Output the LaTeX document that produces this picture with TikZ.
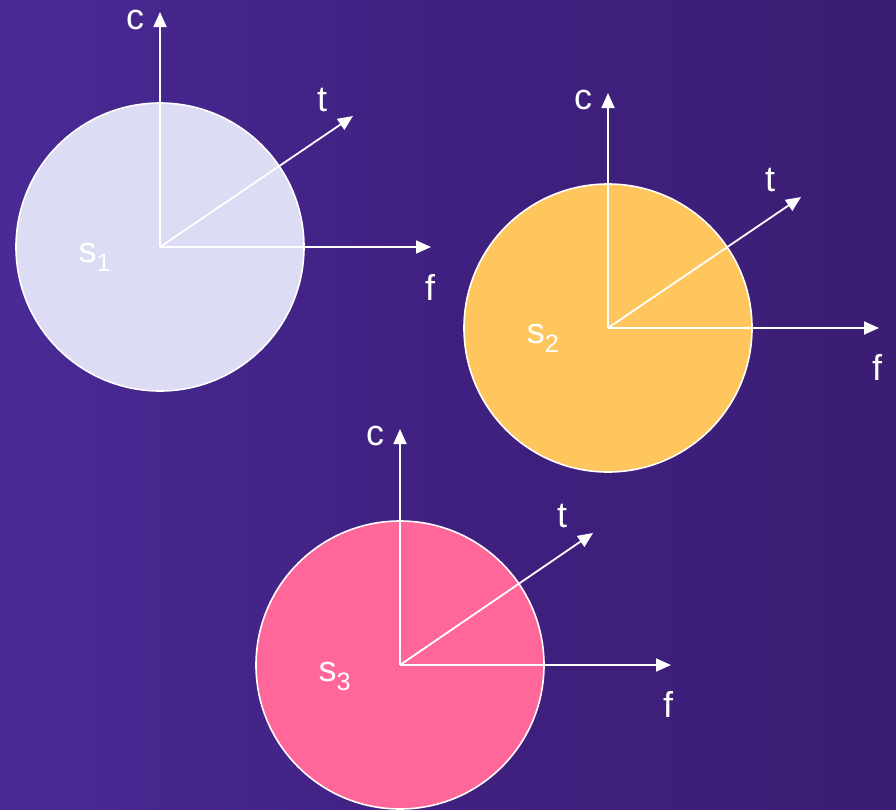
\documentclass[tikz,border=0pt]{standalone}
\usepackage{fontspec}
\setmainfont{Liberation Sans}
\usetikzlibrary{arrows.meta}
\definecolor{bgleft}{HTML}{4A2A95}
\definecolor{bgmid}{HTML}{3F2080}
\definecolor{bgright}{HTML}{3C1D74}
\definecolor{lav}{HTML}{DCDCF4}
\definecolor{gold}{HTML}{FFC65E}
\definecolor{pink}{HTML}{FF6699}
\tikzset{
  disc/.style={circle, draw=white, line width=1.6pt, minimum size=288pt, inner sep=0pt},
  axis/.style={draw=white, line width=1.8pt, -{Triangle[length=15pt,width=13pt]}},
  lbl/.style={text=white, font=\fontsize{36}{40}\selectfont, inner sep=0pt},
  slbl/.style={text=white, font=\fontsize{36}{40}\selectfont, inner sep=0pt}
}
\begin{document}
\begin{tikzpicture}[x=1pt,y=-1pt]
\shade[left color=bgleft, right color=bgright, middle color=bgmid] (0,0) rectangle (896,809);
\useasboundingbox (0,0) rectangle (896,809);
% system 1
\node[disc, fill=lav] (d1) at (160,247) {};
\coordinate (o1) at (160,247);
\coordinate (c1) at (160,12);
\coordinate (t1) at (353,116);
\coordinate (f1) at (431,247);
\draw[axis] (o1) -- (c1);
\draw[axis] (o1) -- (t1);
\draw[axis] (o1) -- (f1);
\node[lbl] (lc1) at (135,20) {c};
\node[lbl] (lt1) at (322,100) {t};
\node[lbl] (lf1) at (430,287) {f};
\node[slbl] (ls1) at (95,257) {s$_{\mathrm{1}}$};
% system 2
\node[disc, fill=gold] (d2) at (608,328) {};
\coordinate (o2) at (608,328);
\coordinate (c2) at (608,93);
\coordinate (t2) at (801,197);
\coordinate (f2) at (879,328);
\draw[axis] (o2) -- (c2);
\draw[axis] (o2) -- (t2);
\draw[axis] (o2) -- (f2);
\node[lbl] (lc2) at (583,100) {c};
\node[lbl] (lt2) at (770,180) {t};
\node[lbl] (lf2) at (877,367) {f};
\node[slbl] (ls2) at (543,338) {s$_{\mathrm{2}}$};
% system 3
\node[disc, fill=pink] (d3) at (400,665) {};
\coordinate (o3) at (400,665);
\coordinate (c3) at (400,429);
\coordinate (t3) at (593,533);
\coordinate (f3) at (671,665);
\draw[axis] (o3) -- (c3);
\draw[axis] (o3) -- (t3);
\draw[axis] (o3) -- (f3);
\node[lbl] (lc3) at (375,436) {c};
\node[lbl] (lt3) at (562,516) {t};
\node[lbl] (lf3) at (668,704) {f};
\node[slbl] (ls3) at (335,676) {s$_{\mathrm{3}}$};
\end{tikzpicture}
\end{document}
